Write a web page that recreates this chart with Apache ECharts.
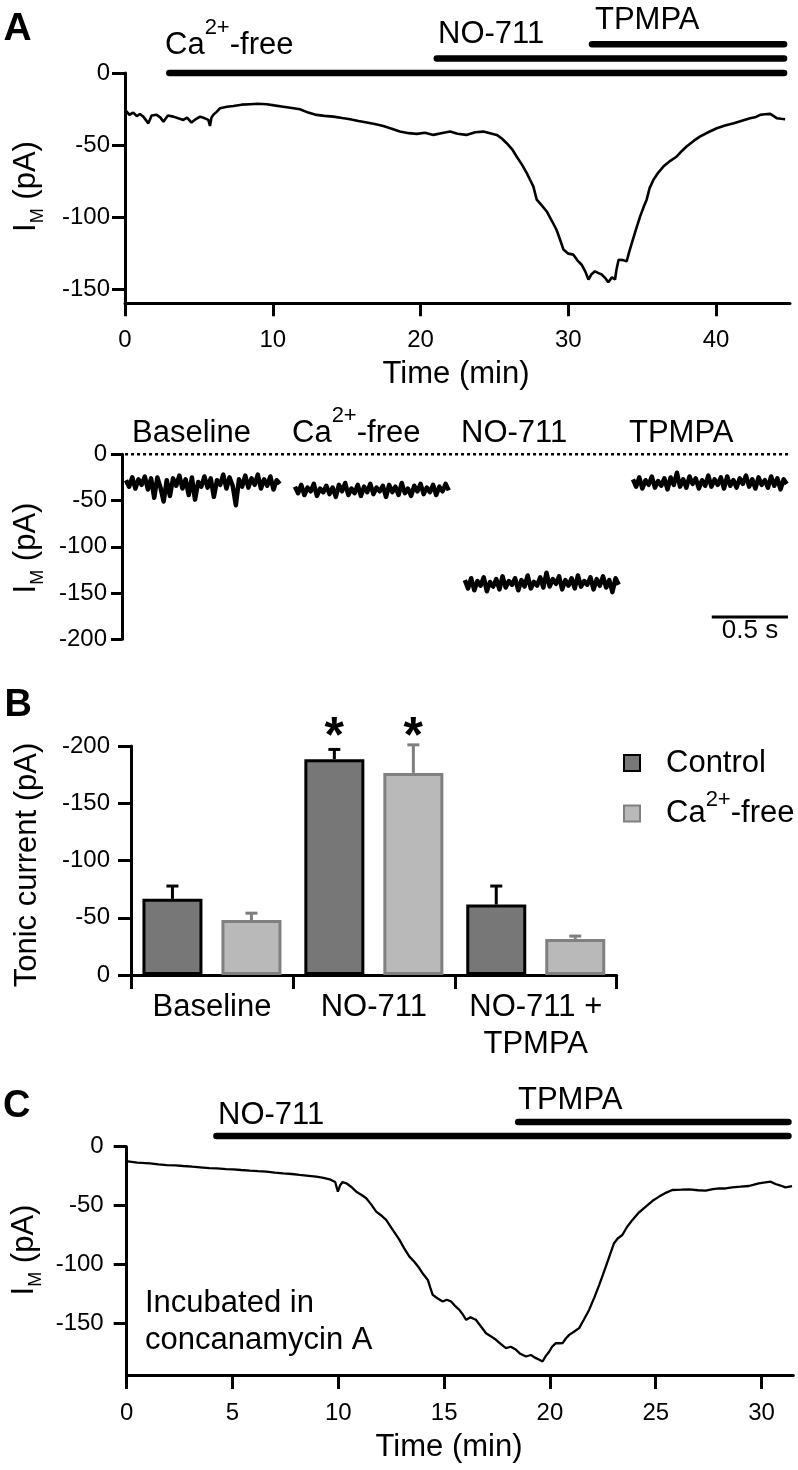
<!DOCTYPE html>
<html>
<head>
<meta charset="utf-8">
<script src="https://cdn.jsdelivr.net/npm/echarts@6/dist/echarts.min.js"></script>
<style>
html,body{margin:0;padding:0;background:#fff;}
#chart{width:798px;height:1470px;}
</style>
</head>
<body>
<div id="chart"></div>
<script>
// ---------------- DATA ----------------
// Panel A (top): I_M vs time (min)
const timeA = [0.0,0.3,0.56,0.8,1.0,1.24,1.58,1.8,2.14,2.4,2.6,2.9,3.27,3.6,3.95,4.2,4.5,4.8,5.08,5.4,5.64,5.75,5.85,5.98,6.2,6.43,6.9,7.33,7.9,8.46,9.0,9.59,10.1,10.7,11.3,11.84,12.4,12.97,13.5,14.1,14.7,15.23,15.8,16.36,16.9,17.48,18.0,18.6,19.2,19.74,20.3,20.87,21.4,22.0,22.5,23.1,23.7,24.25,24.7,25.16,25.5,25.83,26.2,26.5,26.85,27.19,27.4,27.63,27.86,28.2,28.54,28.9,29.2,29.45,29.67,30.0,30.34,30.6,30.9,31.15,31.36,31.55,31.8,32.05,32.26,32.5,32.7,32.95,33.16,33.25,33.4,33.7,33.95,34.1,34.3,34.6,34.86,35.1,35.3,35.5,35.76,36.1,36.43,36.9,37.34,37.7,38.0,38.5,38.9,39.5,40.05,40.6,41.2,41.8,42.3,42.7,42.98,43.3,43.66,43.9,44.1,44.4,44.67];
const currentA = [-25.7,-29,-27.5,-30,-28.5,-30.3,-35,-29.5,-29,-31,-33.8,-29.5,-30.3,-31.5,-32.6,-31,-34.4,-32,-30.3,-31.5,-32.6,-36.8,-31,-29,-27,-24.5,-23.5,-22.9,-22,-21.7,-21.4,-21.7,-22.5,-23.4,-24.3,-25.2,-27.5,-29.1,-29.8,-30.3,-31.3,-32.1,-33.3,-34.4,-35.5,-36.8,-38.5,-40.7,-41.8,-42.3,-41.5,-43,-41.9,-40.7,-42.2,-43,-41.2,-40.7,-41.8,-43,-45.5,-48.8,-53,-58,-63.5,-69.6,-74,-78.8,-88,-92,-96.2,-103,-108.9,-116,-122.7,-125.5,-126.2,-130,-133.2,-138,-143.5,-140,-137.8,-139,-140,-142.5,-145.4,-142,-143.5,-137,-129.7,-130,-130.8,-125,-118.1,-108,-99.6,-93,-88,-80,-74.2,-69,-65,-61,-58,-54,-51.1,-47,-44.2,-41,-38.4,-36.5,-34.9,-33,-31.4,-30.5,-29.1,-28.7,-28.4,-30,-31.4,-31.8,-32.1];
const drugNamesA = ['Ca{sup|2+}-free', 'NO-711', 'TPMPA'];
const drugStartA = [3.0, 21.1, 31.6];
const drugEndA = 44.6;
const drugLevelA = [0, 10, 20];
const xTicksA = [0, 10, 20, 30, 40];
const yTicksA = [-150, -100, -50, 0];

// Panel A (bottom): sample traces (time in s)
const segmentNames = ['Baseline', 'Ca{sup|2+}-free', 'NO-711', 'TPMPA'];
const segmentStart = [0.026, 1.135, 2.25, 3.353];
const sampleStep = 0.0206;
const segBaseline = [-28,-35,-25,-37,-27,-33,-24,-38,-26,-47,-25,-36,-51,-28,-45,-26,-34,-23,-37,-27,-44,-25,-49,-30,-35,-24,-36,-26,-46,-28,-33,-22,-37,-25,-34,-55,-27,-35,-23,-36,-26,-33,-22,-37,-27,-34,-24,-38,-28,-32];
const segCaFree = [-35,-42,-33,-44,-36,-40,-32,-45,-37,-41,-34,-43,-36,-46,-33,-40,-31,-44,-37,-42,-33,-45,-35,-41,-32,-43,-36,-40,-34,-46,-33,-41,-35,-44,-31,-42,-37,-45,-34,-40,-32,-43,-36,-41,-33,-44,-35,-40,-32,-39];
const segNO711 = [-136,-145,-134,-147,-137,-142,-133,-148,-138,-143,-135,-146,-132,-144,-137,-141,-134,-147,-136,-143,-131,-145,-138,-142,-133,-144,-128,-143,-135,-140,-132,-146,-136,-142,-134,-145,-131,-143,-137,-141,-133,-146,-135,-142,-132,-144,-136,-149,-134,-141];
const segTPMPA = [-27,-35,-25,-37,-28,-33,-24,-36,-29,-34,-26,-38,-25,-33,-20,-35,-27,-36,-24,-32,-26,-37,-28,-34,-23,-35,-27,-33,-25,-37,-24,-34,-28,-36,-26,-32,-23,-35,-27,-37,-25,-33,-28,-36,-24,-34,-26,-38,-27,-32];
const zeroLineX = [0.02, 4.39];
const scaleBarX = [3.87, 4.37];
const scaleBarY = -176;

// Panel B: tonic current
const categoriesB = ['Baseline', 'NO-711', 'NO-711 +\nTPMPA'];
const seriesNamesB = ['Control', 'Ca2+-free'];
const controlMean = [-66.5, -188.5, -61.5];
const controlErrTop = [-77.7, -197, -77.7];
const caFreeMean = [-48, -176.5, -31.5];
const caFreeErrTop = [-54, -201, -34];
const controlSig = [0, 1, 0];
const caFreeSig = [0, 1, 0];
const asteriskLevel = -207;

// Panel C: concanamycin A
const timeC = [0.05,0.5,1.1,1.5,1.89,2.3,2.67,3.1,3.46,3.9,4.25,4.7,5.03,5.4,5.82,6.2,6.6,7.0,7.39,7.8,8.17,8.6,8.96,9.3,9.59,9.85,9.98,10.08,10.2,10.38,10.6,10.85,11.1,11.32,11.55,11.79,12.0,12.26,12.55,12.89,13.1,13.36,13.6,13.83,14.0,14.23,14.35,14.46,14.7,14.93,15.13,15.33,15.5,15.72,15.9,16.04,16.25,16.5,16.75,16.98,17.2,17.45,17.7,17.92,18.15,18.4,18.6,18.87,19.1,19.34,19.5,19.65,19.8,19.97,20.1,20.28,20.45,20.6,20.75,20.91,21.15,21.38,21.6,21.85,22.1,22.33,22.5,22.64,22.85,23.03,23.2,23.42,23.65,23.9,24.2,24.53,24.85,25.16,25.5,25.78,26.2,26.57,27.0,27.36,27.7,27.99,28.3,28.61,29.0,29.4,29.6,29.87,30.1,30.42,30.66,30.9,31.13,31.44];
const currentC = [-12.5,-13.5,-14.1,-15,-15.6,-15.8,-16.4,-17,-17.5,-18.2,-18.4,-19,-19.2,-19.8,-20.4,-20.8,-21.2,-22,-22.6,-23.2,-24,-24.8,-25.5,-26.5,-27.7,-30,-38.2,-33,-30,-31.1,-34,-38.2,-41,-43.8,-49,-55.2,-58,-62.2,-70,-79.2,-86,-93.4,-98,-103.3,-108,-113.2,-120,-125.9,-129,-131.6,-130,-131.6,-135,-138.7,-143,-147.1,-145,-147.1,-153,-158.5,-161,-164.1,-168,-171.2,-170,-172.6,-176,-178.3,-177,-179.7,-181,-182.5,-178,-174,-170,-166.9,-167,-166.9,-163,-159.9,-157,-154.2,-147,-138.7,-128,-117.4,-109,-101.9,-91,-82,-78,-75,-68,-62.2,-56,-50.9,-46,-42.4,-39,-36.8,-36.5,-36.2,-37,-37.4,-36,-35.4,-35.5,-34.5,-34,-33.4,-32.5,-31.1,-30.5,-29.7,-31.7,-33,-34.5,-33.4];
const drugNamesC = ['NO-711', 'TPMPA'];
const drugStartC = [4.24, 18.5];
const drugEndC = 31.27;
const drugLevelC = [9, 21];
const xTicksC = [0, 5, 10, 15, 20, 25, 30];
const yTicksC = [-150, -100, -50, 0];

// ---------------- STYLE ----------------
const FONT = '"Liberation Sans", Arial, Helvetica, sans-serif';
const BLACK = '#000';
const BAR_W = 60, BAR_GAP_PX = 19;
const TITLE_SIZE = 31;

function axisLineStyle() { return {show: true, onZero: false, lineStyle: {color: BLACK, width: 3}}; }
function tick(len, custom) { const t = {show: true, inside: false, length: len, lineStyle: {color: BLACK, width: 3}}; if (custom) t.customValues = custom; return t; }
function lab(margin, size, custom) { const l = {show: true, color: BLACK, fontSize: size, fontFamily: FONT, margin: margin}; if (custom) l.customValues = custom; return l; }

const RICH = {
  sup: {fontSize: 22, fontFamily: FONT, fill: BLACK, color: BLACK, padding: [0, 0, 34, 0]},
  sub: {fontSize: 18, fontFamily: FONT, fill: BLACK, color: BLACK, padding: [24, 0, 0, 0]}
};
function txt(x, y, text, o) {
  o = o || {};
  const align = o.align || 'left';
  return {type: 'text', x: x, y: y, rotation: o.rot || 0, silent: true, z: 100,
    style: {text: text, fill: BLACK, fontSize: o.size || TITLE_SIZE, fontFamily: FONT, fontWeight: o.weight || 'normal',
      align: align, textAlign: align, verticalAlign: 'middle', textVerticalAlign: 'middle', rich: RICH}};
}

// ---------------- GRIDS ----------------
const grids = [
  {left: 125, top: 73, width: 665, height: 230.3},        // 0 A top
  {left: 125, top: 36.95, width: 665, height: 36.05},     // 1 A drug bars
  {left: 122, top: 454.3, width: 669, height: 185},       // 2 A bottom
  {left: 131, top: 746, width: 485.7, height: 229},       // 3 B
  {left: 126.7, top: 1146.7, width: 666.6, height: 228.3},// 4 C
  {left: 126.7, top: 1117.25, width: 666.6, height: 29.45}// 5 C drug bars
].map(g => Object.assign({containLabel: false, outerBoundsMode: 'none', show: false}, g));

const xAxes = [
  {type: 'value', gridIndex: 0, min: 0, max: 45, axisLine: axisLineStyle(), axisTick: tick(13, xTicksA), axisLabel: lab(25, 24, xTicksA), splitLine: {show: false}},
  {type: 'value', gridIndex: 1, min: 0, max: 45, show: false},
  {type: 'value', gridIndex: 2, min: 0, max: 4.39, show: false},
  {type: 'category', gridIndex: 3, data: categoriesB, axisLine: axisLineStyle(), axisTick: {show: true, alignWithLabel: false, inside: false, length: 14, lineStyle: {color: BLACK, width: 3}},
   axisLabel: {show: true, interval: 0, color: BLACK, fontSize: TITLE_SIZE, fontFamily: FONT, lineHeight: 37, margin: 14}, splitLine: {show: false}},
  {type: 'value', gridIndex: 4, min: 0, max: 31.5, axisLine: axisLineStyle(), axisTick: tick(14, xTicksC), axisLabel: lab(26, 24, xTicksC), splitLine: {show: false}},
  {type: 'value', gridIndex: 5, min: 0, max: 31.5, show: false}
];
const yAxes = [
  {type: 'value', gridIndex: 0, min: -160, max: 0, axisLine: axisLineStyle(), axisTick: tick(13, yTicksA), axisLabel: lab(15, 24, yTicksA), splitLine: {show: false}},
  {type: 'value', gridIndex: 1, min: 0, max: 25, show: false},
  {type: 'value', gridIndex: 2, min: -200, max: 0, interval: 50, axisLine: axisLineStyle(), axisTick: tick(11), axisLabel: lab(15, 24), splitLine: {show: false}},
  {type: 'value', gridIndex: 3, min: -200, max: 0, interval: 50, inverse: true, axisLine: axisLineStyle(), axisTick: tick(13), axisLabel: lab(21, 24), splitLine: {show: false}},
  {type: 'value', gridIndex: 4, min: -194, max: 0, axisLine: axisLineStyle(), axisTick: tick(13, yTicksC), axisLabel: lab(23, 24, yTicksC), splitLine: {show: false}},
  {type: 'value', gridIndex: 5, min: 0, max: 25, show: false}
];

// ---------------- SERIES ----------------
const series = [];
function traceLine(idx, data, width, extra) {
  return Object.assign({type: 'line', xAxisIndex: idx, yAxisIndex: idx, data: data, symbol: 'none', showSymbol: false,
    lineStyle: {color: BLACK, width: width}, silent: true, animation: false, z: 5}, extra || {});
}
// A top trace
series.push(traceLine(0, timeA.map((t, i) => [t, currentA[i]]), 2.6));
// A drug bars
drugStartA.forEach((s, i) => series.push(traceLine(1, [[s, drugLevelA[i]], [drugEndA, drugLevelA[i]]], 6.5, {clip: false, lineStyle: {color: BLACK, width: 6.5, cap: 'round'}})));
// A bottom zero line
series.push(traceLine(2, zeroLineX.map(x => [x, 0]), 2.5, {clip: false, lineStyle: {color: BLACK, width: 2.5, type: [3, 3]}}));
// A bottom segments
[segBaseline, segCaFree, segNO711, segTPMPA].forEach((vals, k) => {
  series.push(traceLine(2, vals.map((v, i) => [segmentStart[k] + i * sampleStep, v]), 4.5, {clip: false, lineStyle: {color: BLACK, width: 4.5, join: 'round'}}));
});
// scale bar
series.push(traceLine(2, scaleBarX.map(x => [x, scaleBarY]), 3, {clip: false}));
// B bars
series.push({type: 'bar', name: seriesNamesB[0], xAxisIndex: 3, yAxisIndex: 3, data: controlMean, barWidth: BAR_W, barGap: (BAR_GAP_PX / BAR_W * 100) + '%',
  itemStyle: {color: '#777777', borderColor: BLACK, borderWidth: 3}, silent: true, animation: false, z: 3});
series.push({type: 'bar', name: seriesNamesB[1], xAxisIndex: 3, yAxisIndex: 3, data: caFreeMean, barWidth: BAR_W, barGap: (BAR_GAP_PX / BAR_W * 100) + '%',
  itemStyle: {color: '#b9b9b9', borderColor: '#808080', borderWidth: 3}, silent: true, animation: false, z: 3});
// B error bars + asterisks
const errData = [];
controlMean.forEach((m, i) => errData.push([i, m, controlErrTop[i], 0, controlSig[i]]));
caFreeMean.forEach((m, i) => errData.push([i, m, caFreeErrTop[i], 1, caFreeSig[i]]));
series.push({type: 'custom', xAxisIndex: 3, yAxisIndex: 3, data: errData, silent: true, animation: false, z: 10, clip: false,
  renderItem: function (params, api) {
    const cat = api.value(0), mean = api.value(1), err = api.value(2), s = api.value(3), sig = api.value(4);
    const p0 = api.coord([cat, mean]);
    const p1 = api.coord([cat, err]);
    const x = p0[0] + (s === 0 ? -1 : 1) * (BAR_W + BAR_GAP_PX) / 2;
    const color = s === 0 ? BLACK : '#7f7f7f';
    const children = [
      {type: 'line', shape: {x1: x, y1: p0[1], x2: x, y2: p1[1]}, style: {stroke: color, lineWidth: 3}},
      {type: 'line', shape: {x1: x - 6, y1: p1[1], x2: x + 6, y2: p1[1]}, style: {stroke: color, lineWidth: 3}}
    ];
    if (sig) {
      const pa = api.coord([cat, asteriskLevel]);
      children.push({type: 'text', x: x, y: pa[1], style: {text: '*', fill: BLACK, fontSize: 50, fontWeight: 'bold', fontFamily: FONT, align: 'center', verticalAlign: 'middle'}});
    }
    return {type: 'group', children: children};
  }
});
// C trace
series.push(traceLine(4, timeC.map((t, i) => [t, currentC[i]]), 2.3));
drugStartC.forEach((s, i) => series.push(traceLine(5, [[s, drugLevelC[i]], [drugEndC, drugLevelC[i]]], 6.5, {clip: false, lineStyle: {color: BLACK, width: 6.5, cap: 'round'}})));

// ---------------- TEXT ----------------
const graphics = [
  txt(17.5, 29, 'A', {size: 39, weight: 'bold', align: 'center'}),
  txt(18.3, 706, 'B', {size: 38, weight: 'bold', align: 'center'}),
  txt(16.7, 1107, 'C', {size: 38, weight: 'bold', align: 'center'}),
  // A top
  txt(165, 45, drugNamesA[0]), txt(438, 34, drugNamesA[1]), txt(595, 20, drugNamesA[2]),
  txt(456, 374, 'Time (min)', {align: 'center'}),
  txt(26, 186.5, 'I{sub|M} (pA)', {align: 'center', rot: Math.PI / 2}),
  // A bottom
  txt(132, 433, segmentNames[0]), txt(292, 433, segmentNames[1]), txt(461, 433, segmentNames[2]), txt(629, 433, segmentNames[3]),
  txt(26, 548, 'I{sub|M} (pA)', {align: 'center', rot: Math.PI / 2}),
  txt(750, 631, '0.5 s', {size: 26, align: 'center'}),
  // B
  txt(27.5, 865, 'Tonic current (pA)', {align: 'center', rot: Math.PI / 2}),
  // C
  txt(218, 1115, drugNamesC[0]), txt(518, 1100, drugNamesC[1]),
  txt(145, 1303, 'Incubated in'), txt(145, 1340, 'concanamycin A'),
  txt(449, 1447, 'Time (min)', {align: 'center'}),
  txt(24, 1250, 'I{sub|M} (pA)', {align: 'center', rot: Math.PI / 2})
];

const chart = echarts.init(document.getElementById('chart'), null, {renderer: 'canvas', width: 798, height: 1470});
chart.setOption({
  backgroundColor: '#fff',
  animation: false,
  grid: grids,
  xAxis: xAxes,
  yAxis: yAxes,
  legend: {
    data: seriesNamesB, orient: 'vertical', left: 623, top: 747.5, padding: 0, itemWidth: 16, itemHeight: 16, itemGap: 10, icon: 'rect', selectedMode: false,
    formatter: n => n === 'Ca2+-free' ? 'Ca{sup|2+}-free' : n,
    textStyle: {fontSize: TITLE_SIZE, fontFamily: FONT, color: BLACK, padding: [0, 0, 0, 21],
      rich: {sup: {fontSize: 22, fontFamily: FONT, color: BLACK, padding: [0, 0, 28, 0]}}}
  },
  series: series,
  graphic: graphics
});
</script>
</body>
</html>
